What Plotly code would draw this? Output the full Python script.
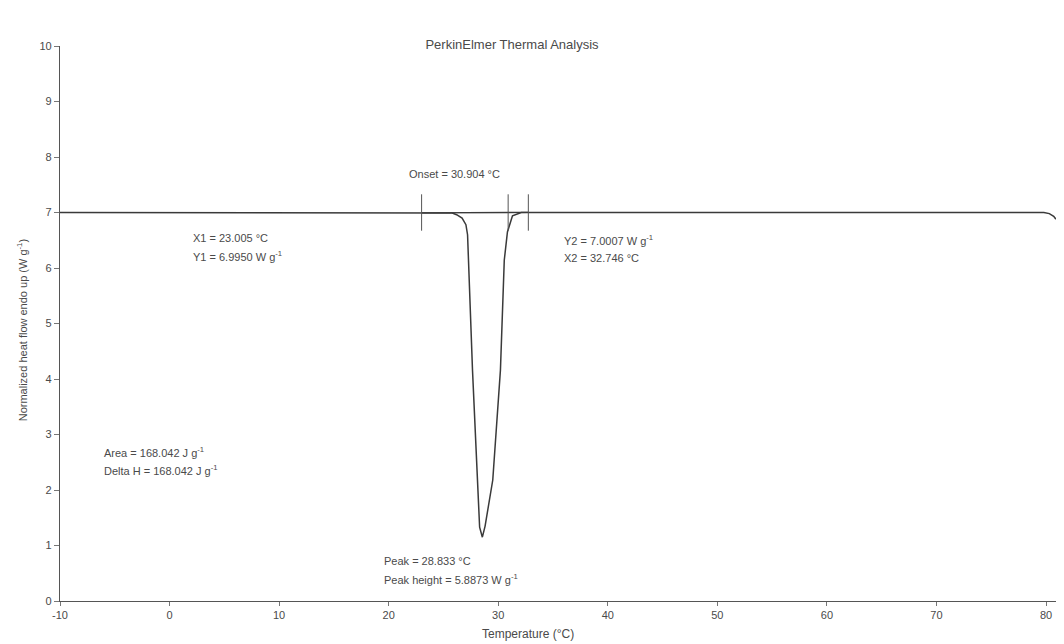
import plotly.graph_objects as go

# ---- data ----
temperature = [-10.0, 25.0, 25.8, 26.2, 26.7, 27.05, 27.2, 27.65, 28.3, 28.55,
               28.8, 29.5, 30.2, 30.55, 30.84, 31.3, 32.1, 33.0, 79.8, 80.3, 80.7, 80.9]
heat_flow = [7.0, 7.0, 6.99, 6.96, 6.9, 6.78, 6.6, 4.16, 1.33, 1.15,
             1.35, 2.18, 4.16, 6.14, 6.65, 6.94, 7.0, 7.0, 7.0, 6.98, 6.93, 6.88]

baseline_x = [23.005, 32.746]
baseline_y = [6.995, 7.0007]

marker_x = [23.005, 30.904, 32.746]
marker_y = [7.0, 7.0, 7.0]

x_ticks = [-10, 0, 10, 20, 30, 40, 50, 60, 70, 80]
x_tick_text = ["-10", "0", "10", "20", "30", "40", "50", "60", "70", "80"]
y_ticks = [0, 1, 2, 3, 4, 5, 6, 7, 8, 9, 10]

label_text = ["Onset = 30.904 °C",
              "X1 = 23.005 °C", "Y1 = 6.9950 W g<sup>-1</sup>",
              "Y2 = 7.0007 W g<sup>-1</sup>", "X2 = 32.746 °C",
              "Area = 168.042 J g<sup>-1</sup>", "Delta H = 168.042 J g<sup>-1</sup>",
              "Peak = 28.833 °C", "Peak height = 5.8873 W g<sup>-1</sup>"]
label_x = [26.0, 2.0, 2.0, 35.86, 35.86, -6.2, -6.2, 19.43, 19.43]
label_y = [7.69, 6.54, 6.22, 6.50, 6.18, 2.68, 2.36, 0.72, 0.40]
label_anchor = ["center", "left", "left", "left", "left", "left", "left", "left", "left"]

TXT = "#4a4a4a"
FONT = "Liberation Sans, Arial, sans-serif"

fig = go.Figure()
fig.add_trace(go.Scatter(x=baseline_x, y=baseline_y, mode="lines",
                         line=dict(color="#3a3a3a", width=1.3), hoverinfo="skip"))
fig.add_trace(go.Scatter(x=temperature, y=heat_flow, mode="lines",
                         line=dict(color="#3a3a3a", width=1.5)))
fig.add_trace(go.Scatter(x=marker_x, y=marker_y, mode="markers",
                         marker=dict(symbol="line-ns", size=26,
                                     line=dict(color="#555555", width=1))))

for t, x, y, a in zip(label_text, label_x, label_y, label_anchor):
    fig.add_annotation(x=x, y=y, text=t, showarrow=False, xanchor=a, yanchor="middle",
                       font=dict(size=11, color=TXT, family=FONT))

# axis titles
fig.add_annotation(x=32.7, xref="x", y=-0.059, yref="paper", text="Temperature (°C)",
                   showarrow=False, xanchor="center", yanchor="middle",
                   font=dict(size=12, color=TXT, family=FONT))
fig.add_annotation(x=-0.038, xref="paper", y=0.488, yref="paper",
                   text="Normalized heat flow endo up (W g<sup>-1</sup>)", textangle=-90,
                   showarrow=False, xanchor="center", yanchor="middle",
                   font=dict(size=11, color=TXT, family=FONT))

fig.update_layout(
    width=1056, height=636,
    margin=dict(l=52, r=7, t=38, b=43, autoexpand=False),
    paper_bgcolor="white", plot_bgcolor="white",
    showlegend=False,
    title=dict(text="PerkinElmer Thermal Analysis", x=504 / 1056, xref="container",
               y=1 - 36 / 636, yref="container", xanchor="center", yanchor="middle",
               font=dict(size=13, color=TXT, family=FONT)),
    font=dict(family=FONT, color=TXT, size=11),
)
fig.update_xaxes(range=[-10, 81], tickvals=x_ticks, ticktext=x_tick_text,
                 showgrid=False, zeroline=False, automargin=False,
                 showline=True, linecolor="#555555", linewidth=1.2,
                 ticks="outside", ticklen=4, tickcolor="#777777",
                 tickfont=dict(size=11, color=TXT, family=FONT))
fig.update_yaxes(range=[0, 10], tickvals=y_ticks, showgrid=False, zeroline=False,
                 automargin=False,
                 showline=True, linecolor="#555555", linewidth=1.2,
                 ticks="outside", ticklen=5, tickcolor="#777777",
                 tickfont=dict(size=11, color=TXT, family=FONT))

fig.write_html("out.html")
